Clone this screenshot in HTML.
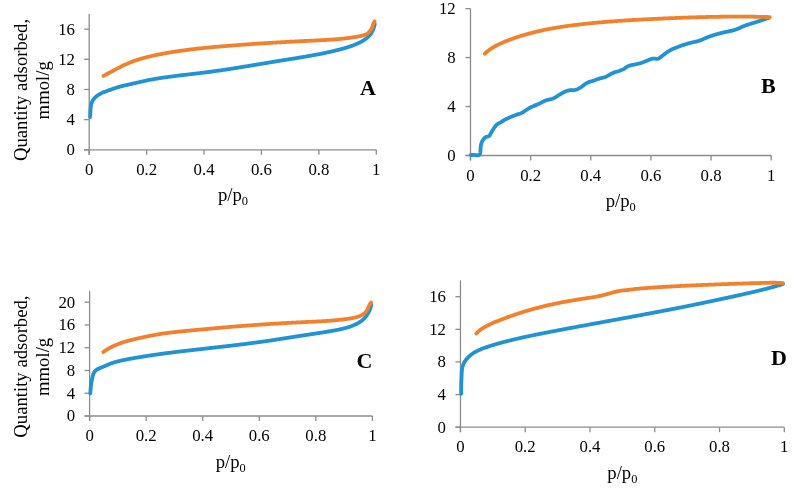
<!DOCTYPE html>
<html><head><meta charset="utf-8"><style>
html,body{margin:0;padding:0;background:#fff;}
svg{display:block;will-change:transform;}
</style></head><body>
<svg width="799" height="488" viewBox="0 0 799 488" font-family="Liberation Serif, serif" fill="#000">
<g stroke="#8C8C8C" stroke-width="1.3" fill="none"><line x1="89.2" y1="14.08" x2="89.2" y2="154.80" /><line x1="84.2" y1="149.8" x2="376.3" y2="149.8" /><line x1="84.2" y1="149.80" x2="89.2" y2="149.80" /><line x1="84.2" y1="119.64" x2="89.2" y2="119.64" /><line x1="84.2" y1="89.48" x2="89.2" y2="89.48" /><line x1="84.2" y1="59.32" x2="89.2" y2="59.32" /><line x1="84.2" y1="29.16" x2="89.2" y2="29.16" /><line x1="89.20" y1="149.8" x2="89.20" y2="154.8" /><line x1="146.62" y1="149.8" x2="146.62" y2="154.8" /><line x1="204.04" y1="149.8" x2="204.04" y2="154.8" /><line x1="261.46" y1="149.8" x2="261.46" y2="154.8" /><line x1="318.88" y1="149.8" x2="318.88" y2="154.8" /><line x1="376.30" y1="149.8" x2="376.30" y2="154.8" /></g>
<g font-size="16.8"><text x="75" y="155.20" text-anchor="end">0</text><text x="75" y="125.04" text-anchor="end">4</text><text x="75" y="94.88" text-anchor="end">8</text><text x="75" y="64.72" text-anchor="end">12</text><text x="75" y="34.56" text-anchor="end">16</text><text x="89.20" y="174.5" text-anchor="middle">0</text><text x="146.62" y="174.5" text-anchor="middle">0.2</text><text x="204.04" y="174.5" text-anchor="middle">0.4</text><text x="261.46" y="174.5" text-anchor="middle">0.6</text><text x="318.88" y="174.5" text-anchor="middle">0.8</text><text x="376.30" y="174.5" text-anchor="middle">1</text></g>
<text x="217.9" y="200.5" font-size="18.7">p/p<tspan font-size="12.4" dy="4.8">0</tspan></text>
<text x="360.1" y="94.7" font-size="22" font-weight="bold">A</text>
<path d="M90.09,117.00 L90.14,116.36 L90.18,115.73 L90.22,115.09 L90.26,114.46 L90.30,113.83 L90.34,113.20 L90.37,112.57 L90.40,111.94 L90.44,111.31 L90.47,110.67 L90.51,110.04 L90.55,109.40 L90.59,108.76 L90.64,108.11 L90.69,107.47 L90.76,106.83 L90.84,106.19 L90.94,105.56 L91.06,104.93 L91.19,104.31 L91.36,103.70 L91.55,103.10 L91.77,102.51 L92.01,101.93 L92.29,101.36 L92.59,100.81 L92.92,100.27 L93.27,99.74 L93.64,99.23 L94.03,98.73 L94.44,98.25 L94.87,97.78 L95.32,97.33 L95.78,96.90 L96.26,96.48 L96.75,96.08 L97.25,95.70 L97.76,95.33 L98.29,94.98 L98.82,94.64 L99.36,94.32 L99.92,94.01 L100.47,93.71 L101.04,93.42 L101.61,93.14 L102.19,92.87 L102.78,92.61 L103.37,92.36 L103.96,92.12 L104.56,91.88 L105.16,91.65 L105.76,91.42 L106.36,91.19 L106.96,90.97 L107.57,90.76 L108.17,90.54 L108.77,90.32 L109.37,90.11 L109.97,89.90 L110.57,89.68 L111.17,89.47 L111.77,89.27 L112.37,89.06 L112.97,88.85 L113.56,88.65 L114.16,88.45 L114.76,88.25 L115.36,88.06 L115.96,87.87 L116.57,87.68 L117.17,87.49 L117.77,87.30 L118.38,87.12 L118.99,86.95 L119.60,86.77 L120.21,86.60 L120.82,86.44 L121.44,86.27 L122.06,86.12 L122.68,85.96 L123.30,85.81 L123.92,85.66 L124.55,85.51 L125.17,85.37 L125.80,85.22 L126.42,85.08 L127.05,84.94 L127.68,84.80 L128.30,84.66 L128.93,84.52 L129.55,84.38 L130.18,84.23 L130.80,84.09 L131.43,83.95 L132.05,83.81 L132.67,83.67 L133.29,83.52 L133.91,83.38 L134.53,83.24 L135.15,83.09 L135.77,82.95 L136.39,82.81 L137.00,82.66 L137.62,82.52 L138.24,82.38 L138.85,82.24 L139.47,82.10 L140.09,81.95 L140.70,81.82 L141.32,81.68 L141.94,81.54 L142.55,81.40 L143.17,81.27 L143.79,81.13 L144.40,81.00 L145.02,80.87 L145.64,80.73 L146.26,80.61 L146.87,80.48 L147.49,80.35 L148.11,80.23 L148.73,80.10 L149.35,79.98 L149.97,79.86 L150.59,79.74 L151.21,79.63 L151.83,79.51 L152.46,79.40 L153.08,79.28 L153.70,79.17 L154.32,79.06 L154.95,78.95 L155.57,78.85 L156.20,78.74 L156.82,78.63 L157.44,78.53 L158.07,78.43 L158.69,78.33 L159.32,78.23 L159.95,78.13 L160.57,78.03 L161.20,77.93 L161.83,77.84 L162.45,77.74 L163.08,77.65 L163.71,77.55 L164.34,77.46 L164.96,77.37 L165.59,77.28 L166.22,77.19 L166.85,77.10 L167.48,77.02 L168.11,76.93 L168.74,76.84 L169.37,76.76 L170.00,76.67 L170.63,76.59 L171.26,76.51 L171.89,76.42 L172.52,76.34 L173.15,76.26 L173.78,76.18 L174.41,76.10 L175.05,76.02 L175.68,75.94 L176.31,75.87 L176.94,75.79 L177.57,75.71 L178.20,75.63 L178.84,75.56 L179.47,75.48 L180.10,75.41 L180.73,75.33 L181.37,75.25 L182.00,75.18 L182.63,75.11 L183.27,75.03 L183.90,74.96 L184.53,74.88 L185.16,74.81 L185.80,74.74 L186.43,74.66 L187.06,74.59 L187.70,74.52 L188.33,74.44 L188.96,74.37 L189.60,74.30 L190.23,74.23 L190.86,74.15 L191.50,74.08 L192.13,74.01 L192.76,73.93 L193.40,73.86 L194.03,73.79 L194.66,73.71 L195.30,73.64 L195.93,73.57 L196.56,73.49 L197.20,73.42 L197.83,73.34 L198.46,73.27 L199.09,73.19 L199.73,73.12 L200.36,73.04 L200.99,72.96 L201.62,72.89 L202.26,72.81 L202.89,72.73 L203.52,72.65 L204.15,72.57 L204.78,72.50 L205.42,72.42 L206.05,72.33 L206.68,72.25 L207.31,72.17 L207.94,72.09 L208.57,72.01 L209.20,71.92 L209.83,71.84 L210.46,71.76 L211.09,71.67 L211.72,71.59 L212.35,71.50 L212.98,71.42 L213.61,71.33 L214.24,71.24 L214.87,71.15 L215.50,71.07 L216.13,70.98 L216.76,70.89 L217.39,70.80 L218.02,70.71 L218.65,70.62 L219.28,70.53 L219.91,70.44 L220.54,70.35 L221.16,70.26 L221.79,70.16 L222.42,70.07 L223.05,69.98 L223.68,69.88 L224.31,69.79 L224.93,69.70 L225.56,69.60 L226.19,69.51 L226.82,69.41 L227.45,69.32 L228.07,69.22 L228.70,69.13 L229.33,69.03 L229.96,68.93 L230.58,68.84 L231.21,68.74 L231.84,68.64 L232.47,68.54 L233.09,68.45 L233.72,68.35 L234.35,68.25 L234.98,68.15 L235.60,68.05 L236.23,67.95 L236.86,67.85 L237.48,67.75 L238.11,67.65 L238.74,67.55 L239.36,67.45 L239.99,67.35 L240.62,67.25 L241.24,67.15 L241.87,67.05 L242.50,66.95 L243.12,66.84 L243.75,66.74 L244.38,66.64 L245.00,66.54 L245.63,66.43 L246.26,66.33 L246.88,66.23 L247.51,66.13 L248.13,66.02 L248.76,65.92 L249.39,65.82 L250.01,65.71 L250.64,65.61 L251.27,65.51 L251.89,65.40 L252.52,65.30 L253.15,65.20 L253.77,65.09 L254.40,64.99 L255.02,64.88 L255.65,64.78 L256.28,64.68 L256.90,64.57 L257.53,64.47 L258.16,64.36 L258.78,64.26 L259.41,64.15 L260.04,64.05 L260.66,63.95 L261.29,63.84 L261.92,63.74 L262.54,63.63 L263.17,63.53 L263.80,63.42 L264.42,63.32 L265.05,63.21 L265.68,63.11 L266.30,63.01 L266.93,62.90 L267.56,62.80 L268.18,62.69 L268.81,62.59 L269.44,62.49 L270.06,62.38 L270.69,62.28 L271.32,62.17 L271.95,62.07 L272.57,61.97 L273.20,61.86 L273.83,61.76 L274.45,61.66 L275.08,61.55 L275.71,61.45 L276.34,61.35 L276.97,61.25 L277.59,61.14 L278.22,61.04 L278.85,60.94 L279.48,60.84 L280.11,60.74 L280.73,60.63 L281.36,60.53 L281.99,60.43 L282.62,60.33 L283.25,60.23 L283.88,60.13 L284.50,60.03 L285.13,59.93 L285.76,59.83 L286.39,59.73 L287.02,59.62 L287.65,59.52 L288.28,59.42 L288.90,59.32 L289.53,59.22 L290.16,59.12 L290.79,59.02 L291.42,58.92 L292.05,58.82 L292.68,58.72 L293.31,58.62 L293.94,58.51 L294.56,58.41 L295.19,58.31 L295.82,58.21 L296.45,58.11 L297.08,58.00 L297.71,57.90 L298.34,57.80 L298.96,57.69 L299.59,57.59 L300.22,57.49 L300.85,57.38 L301.48,57.28 L302.11,57.17 L302.73,57.07 L303.36,56.96 L303.99,56.86 L304.62,56.75 L305.24,56.64 L305.87,56.53 L306.50,56.43 L307.13,56.32 L307.75,56.21 L308.38,56.10 L309.01,55.99 L309.63,55.88 L310.26,55.77 L310.89,55.66 L311.51,55.54 L312.14,55.43 L312.76,55.32 L313.39,55.20 L314.02,55.09 L314.64,54.97 L315.27,54.86 L315.89,54.74 L316.52,54.62 L317.14,54.50 L317.77,54.38 L318.39,54.26 L319.01,54.14 L319.64,54.02 L320.26,53.90 L320.88,53.77 L321.51,53.65 L322.13,53.53 L322.75,53.40 L323.38,53.27 L324.00,53.15 L324.62,53.02 L325.24,52.89 L325.86,52.76 L326.48,52.62 L327.10,52.49 L327.73,52.36 L328.35,52.22 L328.97,52.09 L329.58,51.95 L330.20,51.81 L330.82,51.68 L331.44,51.54 L332.06,51.39 L332.68,51.25 L333.30,51.11 L333.91,50.96 L334.53,50.82 L335.15,50.67 L335.76,50.52 L336.38,50.37 L337.00,50.22 L337.61,50.06 L338.22,49.91 L338.84,49.75 L339.45,49.59 L340.07,49.43 L340.68,49.27 L341.29,49.10 L341.90,48.93 L342.51,48.76 L343.12,48.59 L343.73,48.42 L344.34,48.24 L344.95,48.06 L345.56,47.88 L346.17,47.69 L346.78,47.51 L347.38,47.32 L347.99,47.12 L348.59,46.93 L349.20,46.73 L349.80,46.53 L350.40,46.32 L351.01,46.12 L351.61,45.90 L352.21,45.69 L352.81,45.47 L353.41,45.25 L354.00,45.02 L354.60,44.79 L355.19,44.56 L355.78,44.32 L356.37,44.07 L356.95,43.82 L357.54,43.56 L358.12,43.30 L358.69,43.03 L359.26,42.75 L359.83,42.47 L360.39,42.18 L360.95,41.88 L361.51,41.57 L362.06,41.26 L362.60,40.94 L363.14,40.60 L363.67,40.26 L364.20,39.91 L364.72,39.56 L365.24,39.19 L365.75,38.81 L366.25,38.42 L366.74,38.02 L367.23,37.61 L367.71,37.19 L368.18,36.75 L368.64,36.31 L369.08,35.85 L369.52,35.39 L369.93,34.91 L370.34,34.42 L370.73,33.92 L371.10,33.40 L371.45,32.88 L371.78,32.34 L372.10,31.79 L372.39,31.23 L372.67,30.66 L372.93,30.08 L373.17,29.49 L373.40,28.89 L373.61,28.29 L373.81,27.68 L374.00,27.07 L374.17,26.46 L374.34,25.84 L374.49,25.23 L374.64,24.61 L374.78,24.00" stroke="#1F93D3" stroke-width="3.8" fill="none" stroke-linecap="round" stroke-linejoin="round"/>
<path d="M103.50,75.89 L104.00,75.63 L104.50,75.36 L105.01,75.09 L105.51,74.83 L106.01,74.56 L106.51,74.29 L107.01,74.02 L107.51,73.75 L108.01,73.48 L108.51,73.21 L109.01,72.94 L109.51,72.67 L110.01,72.39 L110.52,72.12 L111.02,71.85 L111.52,71.58 L112.02,71.31 L112.52,71.04 L113.02,70.77 L113.53,70.50 L114.03,70.23 L114.53,69.96 L115.04,69.70 L115.54,69.43 L116.05,69.16 L116.55,68.90 L117.06,68.63 L117.56,68.37 L118.07,68.11 L118.58,67.85 L119.08,67.59 L119.59,67.33 L120.10,67.07 L120.61,66.82 L121.12,66.56 L121.63,66.31 L122.14,66.06 L122.66,65.81 L123.17,65.56 L123.68,65.32 L124.20,65.08 L124.71,64.84 L125.23,64.60 L125.75,64.36 L126.27,64.13 L126.78,63.89 L127.30,63.67 L127.83,63.44 L128.35,63.21 L128.87,62.99 L129.40,62.77 L129.92,62.56 L130.45,62.34 L130.98,62.13 L131.50,61.93 L132.03,61.72 L132.57,61.52 L133.10,61.32 L133.63,61.13 L134.17,60.94 L134.70,60.75 L135.24,60.56 L135.78,60.38 L136.32,60.19 L136.86,60.02 L137.40,59.84 L137.94,59.67 L138.48,59.49 L139.02,59.33 L139.57,59.16 L140.11,59.00 L140.66,58.83 L141.20,58.67 L141.75,58.52 L142.30,58.36 L142.85,58.21 L143.40,58.06 L143.95,57.91 L144.50,57.76 L145.05,57.62 L145.60,57.47 L146.15,57.33 L146.71,57.19 L147.26,57.05 L147.81,56.92 L148.37,56.78 L148.92,56.65 L149.48,56.52 L150.03,56.39 L150.59,56.26 L151.15,56.13 L151.70,56.01 L152.26,55.88 L152.82,55.76 L153.37,55.63 L153.93,55.51 L154.49,55.39 L155.05,55.27 L155.61,55.15 L156.16,55.04 L156.72,54.92 L157.28,54.80 L157.84,54.69 L158.40,54.58 L158.96,54.46 L159.51,54.35 L160.07,54.24 L160.63,54.13 L161.19,54.02 L161.75,53.92 L162.31,53.81 L162.87,53.70 L163.43,53.60 L163.99,53.49 L164.55,53.39 L165.11,53.29 L165.67,53.19 L166.23,53.09 L166.79,52.99 L167.36,52.89 L167.92,52.79 L168.48,52.69 L169.04,52.60 L169.60,52.50 L170.16,52.41 L170.72,52.31 L171.28,52.22 L171.85,52.13 L172.41,52.04 L172.97,51.94 L173.53,51.85 L174.10,51.77 L174.66,51.68 L175.22,51.59 L175.78,51.50 L176.35,51.42 L176.91,51.33 L177.47,51.25 L178.03,51.16 L178.60,51.08 L179.16,51.00 L179.72,50.92 L180.29,50.84 L180.85,50.75 L181.42,50.68 L181.98,50.60 L182.54,50.52 L183.11,50.44 L183.67,50.36 L184.24,50.29 L184.80,50.21 L185.36,50.14 L185.93,50.06 L186.49,49.99 L187.06,49.92 L187.62,49.84 L188.19,49.77 L188.75,49.70 L189.32,49.63 L189.88,49.56 L190.45,49.49 L191.01,49.42 L191.58,49.35 L192.14,49.29 L192.71,49.22 L193.27,49.15 L193.84,49.09 L194.40,49.02 L194.97,48.96 L195.54,48.89 L196.10,48.83 L196.67,48.76 L197.23,48.70 L197.80,48.64 L198.37,48.58 L198.93,48.51 L199.50,48.45 L200.06,48.39 L200.63,48.33 L201.20,48.27 L201.76,48.21 L202.33,48.15 L202.90,48.10 L203.46,48.04 L204.03,47.98 L204.60,47.92 L205.16,47.87 L205.73,47.81 L206.30,47.75 L206.86,47.70 L207.43,47.64 L208.00,47.59 L208.56,47.53 L209.13,47.48 L209.70,47.43 L210.27,47.37 L210.83,47.32 L211.40,47.27 L211.97,47.22 L212.53,47.16 L213.10,47.11 L213.67,47.06 L214.24,47.01 L214.80,46.96 L215.37,46.91 L215.94,46.86 L216.51,46.81 L217.07,46.76 L217.64,46.71 L218.21,46.66 L218.78,46.61 L219.34,46.56 L219.91,46.51 L220.48,46.46 L221.05,46.42 L221.61,46.37 L222.18,46.32 L222.75,46.27 L223.32,46.23 L223.88,46.18 L224.45,46.13 L225.02,46.09 L225.59,46.04 L226.15,45.99 L226.72,45.95 L227.29,45.90 L227.86,45.85 L228.42,45.81 L228.99,45.76 L229.56,45.72 L230.13,45.67 L230.70,45.63 L231.26,45.58 L231.83,45.54 L232.40,45.49 L232.97,45.45 L233.53,45.40 L234.10,45.36 L234.67,45.32 L235.24,45.27 L235.81,45.23 L236.37,45.19 L236.94,45.14 L237.51,45.10 L238.08,45.06 L238.64,45.01 L239.21,44.97 L239.78,44.93 L240.35,44.89 L240.92,44.84 L241.48,44.80 L242.05,44.76 L242.62,44.72 L243.19,44.68 L243.76,44.64 L244.32,44.60 L244.89,44.55 L245.46,44.51 L246.03,44.47 L246.60,44.43 L247.16,44.39 L247.73,44.35 L248.30,44.31 L248.87,44.27 L249.44,44.23 L250.00,44.19 L250.57,44.15 L251.14,44.11 L251.71,44.08 L252.28,44.04 L252.84,44.00 L253.41,43.96 L253.98,43.92 L254.55,43.88 L255.12,43.84 L255.68,43.81 L256.25,43.77 L256.82,43.73 L257.39,43.69 L257.96,43.65 L258.53,43.62 L259.09,43.58 L259.66,43.54 L260.23,43.51 L260.80,43.47 L261.37,43.43 L261.94,43.40 L262.50,43.36 L263.07,43.32 L263.64,43.29 L264.21,43.25 L264.78,43.22 L265.34,43.18 L265.91,43.14 L266.48,43.11 L267.05,43.07 L267.62,43.04 L268.19,43.00 L268.76,42.97 L269.32,42.93 L269.89,42.90 L270.46,42.86 L271.03,42.83 L271.60,42.80 L272.17,42.76 L272.73,42.73 L273.30,42.69 L273.87,42.66 L274.44,42.63 L275.01,42.59 L275.58,42.56 L276.15,42.53 L276.71,42.49 L277.28,42.46 L277.85,42.43 L278.42,42.40 L278.99,42.36 L279.56,42.33 L280.13,42.30 L280.69,42.27 L281.26,42.23 L281.83,42.20 L282.40,42.17 L282.97,42.14 L283.54,42.11 L284.11,42.07 L284.68,42.04 L285.24,42.01 L285.81,41.98 L286.38,41.95 L286.95,41.92 L287.52,41.89 L288.09,41.86 L288.66,41.83 L289.23,41.80 L289.79,41.77 L290.36,41.74 L290.93,41.71 L291.50,41.68 L292.07,41.65 L292.64,41.62 L293.21,41.59 L293.78,41.56 L294.35,41.53 L294.92,41.50 L295.48,41.47 L296.05,41.44 L296.62,41.41 L297.19,41.38 L297.76,41.35 L298.33,41.32 L298.90,41.29 L299.47,41.27 L300.04,41.24 L300.61,41.21 L301.18,41.18 L301.74,41.15 L302.31,41.13 L302.88,41.10 L303.45,41.07 L304.02,41.04 L304.59,41.01 L305.16,40.99 L305.73,40.96 L306.30,40.93 L306.87,40.90 L307.44,40.88 L308.01,40.85 L308.58,40.82 L309.15,40.80 L309.71,40.77 L310.28,40.74 L310.85,40.72 L311.42,40.69 L311.99,40.66 L312.56,40.64 L313.13,40.61 L313.70,40.58 L314.27,40.56 L314.84,40.53 L315.41,40.50 L315.98,40.48 L316.55,40.45 L317.12,40.42 L317.69,40.39 L318.26,40.37 L318.82,40.34 L319.39,40.31 L319.96,40.28 L320.53,40.25 L321.10,40.22 L321.67,40.20 L322.24,40.17 L322.81,40.14 L323.38,40.11 L323.95,40.07 L324.52,40.04 L325.08,40.01 L325.65,39.98 L326.22,39.95 L326.79,39.91 L327.36,39.88 L327.93,39.84 L328.50,39.81 L329.06,39.77 L329.63,39.74 L330.20,39.70 L330.77,39.66 L331.34,39.62 L331.90,39.58 L332.47,39.54 L333.04,39.50 L333.61,39.46 L334.18,39.42 L334.74,39.38 L335.31,39.33 L335.88,39.29 L336.44,39.24 L337.01,39.19 L337.58,39.15 L338.14,39.10 L338.71,39.05 L339.28,39.00 L339.84,38.95 L340.41,38.89 L340.98,38.84 L341.54,38.78 L342.11,38.73 L342.67,38.67 L343.24,38.61 L343.80,38.55 L344.37,38.49 L344.93,38.43 L345.50,38.36 L346.06,38.30 L346.63,38.23 L347.19,38.16 L347.76,38.10 L348.32,38.03 L348.88,37.95 L349.45,37.88 L350.01,37.81 L350.57,37.73 L351.14,37.65 L351.70,37.57 L352.26,37.49 L352.82,37.41 L353.39,37.33 L353.95,37.24 L354.51,37.15 L355.07,37.06 L355.63,36.97 L356.20,36.88 L356.76,36.78 L357.32,36.68 L357.88,36.57 L358.44,36.46 L359.00,36.35 L359.56,36.23 L360.12,36.11 L360.68,35.98 L361.24,35.85 L361.80,35.71 L362.35,35.57 L362.91,35.42 L363.47,35.26 L364.02,35.08 L364.56,34.90 L365.09,34.69 L365.62,34.47 L366.13,34.22 L366.62,33.95 L367.10,33.66 L367.56,33.35 L368.01,33.01 L368.44,32.66 L368.86,32.28 L369.25,31.89 L369.63,31.48 L369.99,31.05 L370.34,30.60 L370.66,30.14 L370.97,29.67 L371.25,29.18 L371.51,28.67 L371.76,28.15 L371.98,27.63 L372.19,27.09 L372.39,26.55 L372.58,26.00 L372.76,25.45 L372.95,24.90 L373.14,24.36 L373.34,23.82 L373.55,23.29 L373.78,22.78 L374.03,22.27 L374.31,21.79 L374.61,21.32" stroke="#F3802A" stroke-width="3.8" fill="none" stroke-linecap="round" stroke-linejoin="round"/>
<g stroke="#8C8C8C" stroke-width="1.3" fill="none"><line x1="470.5" y1="8.62" x2="470.5" y2="160.50" /><line x1="465.5" y1="155.5" x2="771.2" y2="155.5" /><line x1="465.5" y1="155.50" x2="470.5" y2="155.50" /><line x1="465.5" y1="106.54" x2="470.5" y2="106.54" /><line x1="465.5" y1="57.58" x2="470.5" y2="57.58" /><line x1="465.5" y1="8.62" x2="470.5" y2="8.62" /><line x1="470.50" y1="155.5" x2="470.50" y2="160.5" /><line x1="530.64" y1="155.5" x2="530.64" y2="160.5" /><line x1="590.78" y1="155.5" x2="590.78" y2="160.5" /><line x1="650.92" y1="155.5" x2="650.92" y2="160.5" /><line x1="711.06" y1="155.5" x2="711.06" y2="160.5" /><line x1="771.20" y1="155.5" x2="771.20" y2="160.5" /></g>
<g font-size="16.8"><text x="455.7" y="160.90" text-anchor="end">0</text><text x="455.7" y="111.94" text-anchor="end">4</text><text x="455.7" y="62.98" text-anchor="end">8</text><text x="455.7" y="14.02" text-anchor="end">12</text><text x="470.50" y="181" text-anchor="middle">0</text><text x="530.64" y="181" text-anchor="middle">0.2</text><text x="590.78" y="181" text-anchor="middle">0.4</text><text x="650.92" y="181" text-anchor="middle">0.6</text><text x="711.06" y="181" text-anchor="middle">0.8</text><text x="771.20" y="181" text-anchor="middle">1</text></g>
<text x="605.7" y="206.6" font-size="18.7">p/p<tspan font-size="12.4" dy="4.8">0</tspan></text>
<text x="761.1" y="92.7" font-size="22" font-weight="bold">B</text>
<path d="M470.79,154.99 L471.49,155.01 L472.17,155.01 L472.85,154.99 L473.52,154.96 L474.19,154.95 L474.87,154.97 L475.57,155.03 L476.27,155.14 L476.98,155.25 L477.67,155.31 L478.33,155.24 L478.93,155.01 L479.44,154.63 L479.82,154.13 L480.08,153.53 L480.25,152.88 L480.35,152.18 L480.40,151.47 L480.44,150.75 L480.48,150.06 L480.52,149.37 L480.56,148.69 L480.60,148.02 L480.66,147.35 L480.73,146.68 L480.82,146.01 L480.93,145.34 L481.07,144.68 L481.22,144.01 L481.41,143.35 L481.62,142.70 L481.87,142.07 L482.14,141.44 L482.46,140.84 L482.81,140.25 L483.19,139.69 L483.62,139.15 L484.08,138.64 L484.56,138.13 L485.03,137.63 L485.54,137.20 L486.13,136.93 L486.78,136.76 L487.46,136.63 L488.13,136.47 L488.76,136.23 L489.30,135.87 L489.73,135.37 L490.09,134.78 L490.40,134.15 L490.70,133.51 L491.02,132.90 L491.35,132.31 L491.69,131.72 L492.03,131.15 L492.39,130.57 L492.75,129.99 L493.12,129.42 L493.50,128.85 L493.88,128.27 L494.27,127.71 L494.66,127.14 L495.06,126.58 L495.47,126.04 L495.90,125.52 L496.37,125.03 L496.88,124.59 L497.43,124.18 L498.01,123.81 L498.59,123.45 L499.19,123.12 L499.79,122.79 L500.39,122.46 L500.98,122.13 L501.57,121.79 L502.15,121.42 L502.72,121.05 L503.29,120.67 L503.86,120.30 L504.45,119.95 L505.04,119.61 L505.64,119.30 L506.26,119.00 L506.88,118.71 L507.50,118.43 L508.13,118.16 L508.75,117.88 L509.38,117.61 L510.00,117.34 L510.63,117.08 L511.26,116.81 L511.89,116.55 L512.52,116.29 L513.16,116.04 L513.79,115.79 L514.43,115.54 L515.06,115.30 L515.70,115.06 L516.35,114.83 L516.99,114.60 L517.64,114.38 L518.29,114.16 L518.94,113.94 L519.58,113.71 L520.22,113.48 L520.85,113.23 L521.48,112.96 L522.09,112.66 L522.69,112.35 L523.28,112.01 L523.87,111.65 L524.44,111.28 L525.01,110.90 L525.58,110.52 L526.15,110.13 L526.72,109.75 L527.29,109.37 L527.86,109.00 L528.44,108.64 L529.02,108.29 L529.61,107.95 L530.20,107.62 L530.80,107.30 L531.41,106.99 L532.03,106.70 L532.65,106.42 L533.28,106.15 L533.91,105.88 L534.54,105.62 L535.18,105.37 L535.81,105.12 L536.45,104.87 L537.09,104.62 L537.72,104.36 L538.35,104.10 L538.97,103.83 L539.59,103.54 L540.20,103.24 L540.80,102.92 L541.40,102.59 L542.00,102.25 L542.60,101.92 L543.20,101.60 L543.81,101.30 L544.43,101.01 L545.06,100.75 L545.69,100.51 L546.33,100.29 L546.98,100.09 L547.64,99.91 L548.30,99.75 L548.97,99.60 L549.65,99.47 L550.32,99.33 L550.99,99.18 L551.65,99.01 L552.30,98.82 L552.94,98.59 L553.56,98.32 L554.17,98.02 L554.77,97.69 L555.36,97.35 L555.94,96.98 L556.52,96.61 L557.09,96.24 L557.67,95.87 L558.25,95.50 L558.83,95.14 L559.41,94.79 L559.99,94.43 L560.57,94.08 L561.16,93.74 L561.75,93.39 L562.34,93.05 L562.93,92.71 L563.53,92.38 L564.13,92.06 L564.74,91.76 L565.36,91.47 L565.99,91.20 L566.63,90.95 L567.27,90.73 L567.93,90.53 L568.60,90.38 L569.27,90.27 L569.94,90.20 L570.62,90.17 L571.30,90.18 L571.99,90.21 L572.67,90.23 L573.35,90.23 L574.03,90.16 L574.69,90.03 L575.36,89.84 L576.01,89.63 L576.66,89.40 L577.29,89.15 L577.92,88.88 L578.53,88.60 L579.14,88.29 L579.74,87.96 L580.32,87.61 L580.89,87.24 L581.45,86.86 L582.01,86.46 L582.56,86.05 L583.11,85.64 L583.66,85.22 L584.21,84.81 L584.76,84.41 L585.32,84.02 L585.89,83.64 L586.46,83.28 L587.05,82.94 L587.65,82.63 L588.27,82.35 L588.90,82.10 L589.54,81.87 L590.19,81.66 L590.85,81.46 L591.51,81.27 L592.17,81.08 L592.83,80.88 L593.48,80.68 L594.13,80.46 L594.77,80.24 L595.41,80.01 L596.05,79.77 L596.69,79.54 L597.33,79.31 L597.97,79.08 L598.61,78.85 L599.26,78.63 L599.91,78.43 L600.57,78.23 L601.23,78.05 L601.89,77.88 L602.56,77.73 L603.23,77.58 L603.89,77.42 L604.54,77.23 L605.18,77.00 L605.81,76.74 L606.42,76.45 L607.03,76.14 L607.64,75.82 L608.24,75.49 L608.83,75.15 L609.43,74.81 L610.02,74.48 L610.62,74.14 L611.22,73.81 L611.82,73.49 L612.43,73.19 L613.04,72.90 L613.67,72.63 L614.30,72.38 L614.95,72.17 L615.60,71.98 L616.27,71.81 L616.94,71.65 L617.60,71.48 L618.26,71.28 L618.90,71.06 L619.54,70.82 L620.17,70.58 L620.81,70.33 L621.44,70.08 L622.07,69.81 L622.69,69.53 L623.30,69.22 L623.90,68.89 L624.48,68.53 L625.05,68.15 L625.62,67.76 L626.18,67.36 L626.75,66.98 L627.33,66.62 L627.92,66.30 L628.53,66.01 L629.16,65.77 L629.81,65.55 L630.46,65.37 L631.12,65.22 L631.79,65.08 L632.46,64.95 L633.13,64.82 L633.80,64.70 L634.47,64.57 L635.14,64.43 L635.81,64.29 L636.48,64.15 L637.15,64.01 L637.82,63.85 L638.48,63.69 L639.14,63.52 L639.80,63.35 L640.46,63.16 L641.11,62.97 L641.76,62.76 L642.41,62.54 L643.05,62.31 L643.69,62.08 L644.32,61.83 L644.95,61.58 L645.58,61.32 L646.21,61.06 L646.84,60.80 L647.47,60.53 L648.10,60.27 L648.73,60.00 L649.37,59.74 L650.00,59.49 L650.65,59.24 L651.29,59.00 L651.94,58.79 L652.60,58.63 L653.26,58.54 L653.93,58.53 L654.61,58.57 L655.30,58.66 L656.00,58.76 L656.68,58.83 L657.36,58.83 L658.00,58.71 L658.61,58.48 L659.19,58.15 L659.76,57.76 L660.32,57.36 L660.87,56.95 L661.42,56.53 L661.96,56.11 L662.51,55.69 L663.05,55.27 L663.59,54.84 L664.13,54.42 L664.68,54.00 L665.22,53.59 L665.77,53.18 L666.32,52.78 L666.88,52.38 L667.44,52.00 L668.01,51.62 L668.58,51.26 L669.16,50.91 L669.75,50.57 L670.35,50.25 L670.95,49.93 L671.55,49.62 L672.16,49.32 L672.78,49.03 L673.40,48.75 L674.02,48.47 L674.65,48.20 L675.28,47.94 L675.92,47.68 L676.56,47.43 L677.19,47.19 L677.84,46.95 L678.48,46.71 L679.12,46.48 L679.77,46.24 L680.41,46.01 L681.06,45.79 L681.70,45.56 L682.35,45.33 L682.99,45.11 L683.64,44.89 L684.29,44.67 L684.93,44.46 L685.58,44.24 L686.23,44.04 L686.88,43.83 L687.53,43.64 L688.18,43.45 L688.84,43.26 L689.49,43.08 L690.15,42.91 L690.81,42.75 L691.48,42.59 L692.15,42.44 L692.81,42.30 L693.48,42.15 L694.15,42.01 L694.82,41.86 L695.49,41.71 L696.15,41.56 L696.81,41.39 L697.47,41.22 L698.13,41.04 L698.78,40.84 L699.42,40.63 L700.06,40.40 L700.70,40.16 L701.34,39.91 L701.97,39.65 L702.60,39.39 L703.23,39.12 L703.85,38.85 L704.48,38.58 L705.11,38.30 L705.73,38.03 L706.36,37.77 L707.00,37.50 L707.63,37.25 L708.27,37.00 L708.91,36.75 L709.55,36.52 L710.19,36.29 L710.84,36.06 L711.48,35.84 L712.13,35.62 L712.78,35.41 L713.43,35.21 L714.08,35.00 L714.74,34.80 L715.39,34.61 L716.04,34.41 L716.70,34.22 L717.35,34.03 L718.01,33.85 L718.67,33.66 L719.32,33.48 L719.98,33.31 L720.64,33.14 L721.30,32.97 L721.96,32.80 L722.62,32.64 L723.28,32.48 L723.95,32.33 L724.62,32.18 L725.28,32.04 L725.95,31.90 L726.63,31.77 L727.30,31.64 L727.97,31.51 L728.64,31.37 L729.32,31.24 L729.99,31.11 L730.66,30.96 L731.33,30.82 L731.99,30.66 L732.65,30.50 L733.31,30.32 L733.97,30.13 L734.62,29.93 L735.26,29.72 L735.90,29.49 L736.54,29.24 L737.17,28.99 L737.80,28.73 L738.43,28.46 L739.06,28.18 L739.68,27.91 L740.31,27.63 L740.93,27.35 L741.56,27.07 L742.18,26.80 L742.81,26.53 L743.44,26.28 L744.08,26.02 L744.71,25.78 L745.35,25.55 L746.00,25.32 L746.64,25.09 L747.28,24.88 L747.93,24.66 L748.58,24.45 L749.23,24.24 L749.88,24.04 L750.53,23.84 L751.18,23.64 L751.84,23.44 L752.49,23.24 L753.14,23.04 L753.79,22.83 L754.44,22.63 L755.09,22.42 L755.74,22.21 L756.39,22.00 L757.04,21.79 L757.69,21.58 L758.34,21.36 L758.99,21.15 L759.63,20.93 L760.28,20.71 L760.93,20.49 L761.57,20.27 L762.22,20.05 L762.87,19.83 L763.52,19.61 L764.16,19.40 L764.81,19.18 L765.46,18.96 L766.10,18.75 L766.75,18.53 L767.40,18.32 L768.05,18.11 L768.70,17.90" stroke="#1F93D3" stroke-width="3.8" fill="none" stroke-linecap="round" stroke-linejoin="round"/>
<path d="M484.78,53.79 L485.20,53.38 L485.63,52.97 L486.06,52.57 L486.49,52.18 L486.93,51.80 L487.38,51.42 L487.83,51.05 L488.28,50.69 L488.74,50.33 L489.21,49.98 L489.68,49.64 L490.15,49.30 L490.63,48.97 L491.11,48.64 L491.59,48.32 L492.08,48.01 L492.57,47.70 L493.07,47.40 L493.57,47.10 L494.07,46.81 L494.57,46.52 L495.08,46.24 L495.59,45.96 L496.11,45.69 L496.62,45.42 L497.14,45.15 L497.66,44.89 L498.18,44.63 L498.71,44.38 L499.24,44.13 L499.77,43.88 L500.30,43.64 L500.83,43.39 L501.37,43.16 L501.90,42.92 L502.44,42.69 L502.98,42.46 L503.52,42.23 L504.06,42.01 L504.60,41.78 L505.14,41.56 L505.68,41.34 L506.22,41.12 L506.77,40.91 L507.31,40.69 L507.86,40.48 L508.40,40.27 L508.95,40.06 L509.49,39.85 L510.04,39.65 L510.59,39.44 L511.14,39.24 L511.68,39.04 L512.23,38.84 L512.78,38.64 L513.33,38.45 L513.88,38.25 L514.43,38.06 L514.98,37.87 L515.54,37.68 L516.09,37.49 L516.64,37.31 L517.19,37.12 L517.75,36.94 L518.30,36.76 L518.86,36.58 L519.41,36.40 L519.97,36.22 L520.52,36.05 L521.08,35.88 L521.64,35.70 L522.19,35.53 L522.75,35.36 L523.31,35.20 L523.87,35.03 L524.43,34.87 L524.99,34.70 L525.55,34.54 L526.11,34.38 L526.67,34.22 L527.23,34.07 L527.79,33.91 L528.35,33.76 L528.91,33.60 L529.48,33.45 L530.04,33.30 L530.60,33.15 L531.17,33.00 L531.73,32.86 L532.29,32.71 L532.86,32.57 L533.42,32.43 L533.99,32.29 L534.55,32.15 L535.12,32.01 L535.69,31.87 L536.25,31.74 L536.82,31.60 L537.39,31.47 L537.95,31.34 L538.52,31.21 L539.09,31.08 L539.66,30.95 L540.23,30.83 L540.79,30.70 L541.36,30.58 L541.93,30.45 L542.50,30.33 L543.07,30.21 L543.64,30.09 L544.21,29.97 L544.78,29.85 L545.36,29.74 L545.93,29.62 L546.50,29.51 L547.07,29.40 L547.64,29.28 L548.21,29.17 L548.79,29.06 L549.36,28.95 L549.93,28.85 L550.51,28.74 L551.08,28.63 L551.65,28.53 L552.23,28.43 L552.80,28.32 L553.37,28.22 L553.95,28.12 L554.52,28.02 L555.10,27.92 L555.67,27.83 L556.25,27.73 L556.82,27.63 L557.40,27.54 L557.97,27.44 L558.55,27.35 L559.13,27.26 L559.70,27.17 L560.28,27.08 L560.86,26.99 L561.43,26.90 L562.01,26.81 L562.59,26.72 L563.16,26.63 L563.74,26.55 L564.32,26.46 L564.90,26.38 L565.47,26.30 L566.05,26.21 L566.63,26.13 L567.21,26.05 L567.78,25.97 L568.36,25.89 L568.94,25.81 L569.52,25.73 L570.10,25.65 L570.68,25.58 L571.25,25.50 L571.83,25.42 L572.41,25.35 L572.99,25.27 L573.57,25.20 L574.15,25.13 L574.73,25.06 L575.31,24.98 L575.89,24.91 L576.47,24.84 L577.05,24.77 L577.62,24.70 L578.20,24.63 L578.78,24.56 L579.36,24.49 L579.94,24.43 L580.52,24.36 L581.10,24.29 L581.68,24.23 L582.26,24.16 L582.84,24.10 L583.42,24.03 L584.00,23.97 L584.58,23.90 L585.16,23.84 L585.74,23.78 L586.32,23.71 L586.90,23.65 L587.48,23.59 L588.06,23.53 L588.64,23.47 L589.22,23.41 L589.80,23.35 L590.38,23.29 L590.96,23.23 L591.54,23.18 L592.12,23.12 L592.70,23.06 L593.28,23.00 L593.86,22.95 L594.44,22.89 L595.02,22.84 L595.60,22.78 L596.18,22.73 L596.76,22.67 L597.34,22.62 L597.93,22.57 L598.51,22.51 L599.09,22.46 L599.67,22.41 L600.25,22.36 L600.83,22.31 L601.41,22.26 L601.99,22.21 L602.57,22.16 L603.15,22.11 L603.73,22.06 L604.31,22.01 L604.89,21.96 L605.48,21.91 L606.06,21.86 L606.64,21.82 L607.22,21.77 L607.80,21.72 L608.38,21.68 L608.96,21.63 L609.54,21.59 L610.12,21.54 L610.71,21.50 L611.29,21.45 L611.87,21.41 L612.45,21.36 L613.03,21.32 L613.61,21.28 L614.19,21.23 L614.78,21.19 L615.36,21.15 L615.94,21.11 L616.52,21.07 L617.10,21.03 L617.68,20.98 L618.26,20.94 L618.85,20.90 L619.43,20.86 L620.01,20.82 L620.59,20.79 L621.17,20.75 L621.75,20.71 L622.34,20.67 L622.92,20.63 L623.50,20.59 L624.08,20.56 L624.66,20.52 L625.25,20.48 L625.83,20.45 L626.41,20.41 L626.99,20.37 L627.57,20.34 L628.16,20.30 L628.74,20.27 L629.32,20.23 L629.90,20.20 L630.48,20.16 L631.07,20.13 L631.65,20.09 L632.23,20.06 L632.81,20.02 L633.39,19.99 L633.98,19.96 L634.56,19.93 L635.14,19.89 L635.72,19.86 L636.31,19.83 L636.89,19.80 L637.47,19.76 L638.05,19.73 L638.63,19.70 L639.22,19.67 L639.80,19.64 L640.38,19.61 L640.96,19.58 L641.55,19.55 L642.13,19.52 L642.71,19.48 L643.29,19.45 L643.88,19.43 L644.46,19.40 L645.04,19.37 L645.62,19.34 L646.21,19.31 L646.79,19.28 L647.37,19.25 L647.95,19.22 L648.54,19.19 L649.12,19.16 L649.70,19.14 L650.29,19.11 L650.87,19.08 L651.45,19.05 L652.03,19.02 L652.62,19.00 L653.20,18.97 L653.78,18.94 L654.37,18.91 L654.95,18.89 L655.53,18.86 L656.11,18.83 L656.70,18.81 L657.28,18.78 L657.86,18.75 L658.45,18.73 L659.03,18.70 L659.61,18.67 L660.19,18.65 L660.78,18.62 L661.36,18.60 L661.94,18.57 L662.53,18.54 L663.11,18.52 L663.69,18.49 L664.28,18.47 L664.86,18.44 L665.44,18.42 L666.02,18.39 L666.61,18.37 L667.19,18.34 L667.77,18.32 L668.36,18.29 L668.94,18.27 L669.52,18.24 L670.11,18.22 L670.69,18.20 L671.27,18.17 L671.86,18.15 L672.44,18.12 L673.02,18.10 L673.61,18.08 L674.19,18.05 L674.77,18.03 L675.35,18.01 L675.94,17.98 L676.52,17.96 L677.10,17.94 L677.69,17.92 L678.27,17.89 L678.85,17.87 L679.44,17.85 L680.02,17.83 L680.60,17.81 L681.19,17.79 L681.77,17.76 L682.35,17.74 L682.94,17.72 L683.52,17.70 L684.10,17.68 L684.69,17.66 L685.27,17.64 L685.85,17.62 L686.44,17.60 L687.02,17.58 L687.60,17.56 L688.19,17.54 L688.77,17.52 L689.35,17.50 L689.94,17.48 L690.52,17.46 L691.10,17.44 L691.69,17.43 L692.27,17.41 L692.85,17.39 L693.44,17.37 L694.02,17.35 L694.60,17.33 L695.19,17.32 L695.77,17.30 L696.35,17.28 L696.94,17.27 L697.52,17.25 L698.10,17.23 L698.69,17.22 L699.27,17.20 L699.85,17.18 L700.44,17.17 L701.02,17.15 L701.60,17.14 L702.19,17.12 L702.77,17.11 L703.35,17.09 L703.94,17.08 L704.52,17.06 L705.10,17.05 L705.69,17.04 L706.27,17.02 L706.86,17.01 L707.44,16.99 L708.02,16.98 L708.61,16.97 L709.19,16.96 L709.77,16.94 L710.36,16.93 L710.94,16.92 L711.52,16.91 L712.11,16.90 L712.69,16.88 L713.27,16.87 L713.86,16.86 L714.44,16.85 L715.02,16.84 L715.61,16.83 L716.19,16.82 L716.77,16.81 L717.36,16.80 L717.94,16.79 L718.52,16.78 L719.11,16.78 L719.69,16.77 L720.27,16.76 L720.85,16.75 L721.44,16.74 L722.02,16.73 L722.60,16.73 L723.19,16.72 L723.77,16.71 L724.35,16.71 L724.94,16.70 L725.52,16.69 L726.10,16.69 L726.69,16.68 L727.27,16.68 L727.85,16.67 L728.44,16.67 L729.02,16.66 L729.60,16.66 L730.19,16.66 L730.77,16.65 L731.35,16.65 L731.94,16.65 L732.52,16.64 L733.10,16.64 L733.68,16.64 L734.27,16.64 L734.85,16.63 L735.43,16.63 L736.02,16.63 L736.60,16.63 L737.18,16.63 L737.77,16.63 L738.35,16.63 L738.93,16.63 L739.52,16.63 L740.10,16.63 L740.68,16.63 L741.26,16.63 L741.85,16.63 L742.43,16.64 L743.01,16.64 L743.60,16.64 L744.18,16.64 L744.76,16.65 L745.34,16.65 L745.93,16.65 L746.51,16.66 L747.09,16.66 L747.68,16.67 L748.26,16.67 L748.84,16.68 L749.42,16.68 L750.01,16.69 L750.59,16.69 L751.17,16.70 L751.75,16.71 L752.34,16.71 L752.92,16.72 L753.50,16.73 L754.08,16.74 L754.67,16.74 L755.25,16.75 L755.83,16.76 L756.42,16.77 L757.00,16.78 L757.58,16.79 L758.16,16.80 L758.75,16.81 L759.33,16.82 L759.91,16.83 L760.49,16.85 L761.07,16.86 L761.66,16.87 L762.24,16.88 L762.82,16.90 L763.40,16.91 L763.99,16.92 L764.57,16.94 L765.15,16.95 L765.73,16.97 L766.32,16.98 L766.90,17.00 L767.48,17.01 L768.06,17.03 L768.64,17.05 L769.23,17.06 L769.81,17.08" stroke="#F3802A" stroke-width="3.8" fill="none" stroke-linecap="round" stroke-linejoin="round"/>
<g stroke="#8C8C8C" stroke-width="1.3" fill="none"><line x1="89.6" y1="290.82" x2="89.6" y2="421.00" /><line x1="84.6" y1="416" x2="372.4" y2="416" /><line x1="84.6" y1="416.00" x2="89.6" y2="416.00" /><line x1="84.6" y1="393.24" x2="89.6" y2="393.24" /><line x1="84.6" y1="370.48" x2="89.6" y2="370.48" /><line x1="84.6" y1="347.72" x2="89.6" y2="347.72" /><line x1="84.6" y1="324.96" x2="89.6" y2="324.96" /><line x1="84.6" y1="302.20" x2="89.6" y2="302.20" /><line x1="89.60" y1="416" x2="89.60" y2="421" /><line x1="146.16" y1="416" x2="146.16" y2="421" /><line x1="202.72" y1="416" x2="202.72" y2="421" /><line x1="259.28" y1="416" x2="259.28" y2="421" /><line x1="315.84" y1="416" x2="315.84" y2="421" /><line x1="372.40" y1="416" x2="372.40" y2="421" /></g>
<g font-size="16.8"><text x="75.2" y="421.40" text-anchor="end">0</text><text x="75.2" y="398.64" text-anchor="end">4</text><text x="75.2" y="375.88" text-anchor="end">8</text><text x="75.2" y="353.12" text-anchor="end">12</text><text x="75.2" y="330.36" text-anchor="end">16</text><text x="75.2" y="307.60" text-anchor="end">20</text><text x="89.60" y="440.5" text-anchor="middle">0</text><text x="146.16" y="440.5" text-anchor="middle">0.2</text><text x="202.72" y="440.5" text-anchor="middle">0.4</text><text x="259.28" y="440.5" text-anchor="middle">0.6</text><text x="315.84" y="440.5" text-anchor="middle">0.8</text><text x="372.40" y="440.5" text-anchor="middle">1</text></g>
<text x="215.7" y="467.6" font-size="18.7">p/p<tspan font-size="12.4" dy="4.8">0</tspan></text>
<text x="356.6" y="368.2" font-size="22" font-weight="bold">C</text>
<path d="M90.30,393.30 L90.35,392.67 L90.40,392.04 L90.45,391.41 L90.49,390.78 L90.54,390.15 L90.59,389.51 L90.63,388.88 L90.69,388.24 L90.74,387.61 L90.80,386.98 L90.86,386.35 L90.93,385.72 L91.01,385.09 L91.09,384.47 L91.18,383.85 L91.27,383.23 L91.37,382.61 L91.48,382.00 L91.59,381.38 L91.71,380.76 L91.83,380.15 L91.96,379.53 L92.09,378.91 L92.23,378.28 L92.37,377.66 L92.52,377.03 L92.68,376.40 L92.84,375.77 L93.02,375.15 L93.21,374.53 L93.43,373.94 L93.67,373.35 L93.94,372.79 L94.24,372.25 L94.58,371.74 L94.95,371.26 L95.36,370.81 L95.81,370.39 L96.29,370.00 L96.80,369.63 L97.34,369.29 L97.89,368.98 L98.46,368.68 L99.05,368.40 L99.64,368.14 L100.24,367.89 L100.83,367.66 L101.43,367.43 L102.02,367.21 L102.61,366.98 L103.20,366.76 L103.79,366.53 L104.37,366.29 L104.95,366.04 L105.52,365.79 L106.10,365.52 L106.67,365.26 L107.25,365.00 L107.82,364.74 L108.40,364.49 L108.99,364.25 L109.57,364.01 L110.16,363.78 L110.75,363.56 L111.34,363.34 L111.94,363.13 L112.54,362.93 L113.14,362.73 L113.74,362.54 L114.34,362.35 L114.95,362.17 L115.56,361.99 L116.17,361.82 L116.78,361.65 L117.39,361.49 L118.00,361.33 L118.61,361.18 L119.23,361.03 L119.84,360.88 L120.46,360.74 L121.08,360.59 L121.69,360.46 L122.31,360.32 L122.93,360.19 L123.55,360.06 L124.17,359.93 L124.79,359.81 L125.41,359.69 L126.03,359.56 L126.65,359.44 L127.28,359.32 L127.90,359.21 L128.52,359.09 L129.14,358.97 L129.77,358.86 L130.39,358.74 L131.01,358.63 L131.63,358.52 L132.26,358.40 L132.88,358.29 L133.50,358.18 L134.13,358.07 L134.75,357.96 L135.37,357.85 L136.00,357.74 L136.62,357.64 L137.25,357.53 L137.87,357.42 L138.49,357.32 L139.12,357.21 L139.74,357.11 L140.37,357.01 L140.99,356.90 L141.61,356.80 L142.24,356.70 L142.86,356.60 L143.49,356.50 L144.11,356.40 L144.74,356.30 L145.36,356.20 L145.99,356.10 L146.61,356.01 L147.24,355.91 L147.86,355.81 L148.49,355.72 L149.12,355.62 L149.74,355.53 L150.37,355.43 L150.99,355.34 L151.62,355.25 L152.24,355.16 L152.87,355.06 L153.50,354.97 L154.12,354.88 L154.75,354.79 L155.37,354.70 L156.00,354.61 L156.63,354.52 L157.25,354.44 L157.88,354.35 L158.51,354.26 L159.13,354.17 L159.76,354.09 L160.39,354.00 L161.01,353.92 L161.64,353.83 L162.27,353.75 L162.90,353.66 L163.52,353.58 L164.15,353.49 L164.78,353.41 L165.40,353.33 L166.03,353.25 L166.66,353.16 L167.29,353.08 L167.91,353.00 L168.54,352.92 L169.17,352.84 L169.80,352.76 L170.42,352.68 L171.05,352.60 L171.68,352.52 L172.31,352.44 L172.93,352.37 L173.56,352.29 L174.19,352.21 L174.82,352.13 L175.45,352.06 L176.07,351.98 L176.70,351.90 L177.33,351.83 L177.96,351.75 L178.59,351.67 L179.22,351.60 L179.84,351.52 L180.47,351.45 L181.10,351.37 L181.73,351.30 L182.36,351.22 L182.98,351.15 L183.61,351.08 L184.24,351.00 L184.87,350.93 L185.50,350.86 L186.13,350.78 L186.76,350.71 L187.38,350.64 L188.01,350.56 L188.64,350.49 L189.27,350.42 L189.90,350.35 L190.53,350.27 L191.16,350.20 L191.78,350.13 L192.41,350.06 L193.04,349.99 L193.67,349.92 L194.30,349.84 L194.93,349.77 L195.56,349.70 L196.19,349.63 L196.81,349.56 L197.44,349.49 L198.07,349.42 L198.70,349.35 L199.33,349.28 L199.96,349.21 L200.59,349.14 L201.21,349.06 L201.84,348.99 L202.47,348.92 L203.10,348.85 L203.73,348.78 L204.36,348.71 L204.99,348.64 L205.62,348.57 L206.24,348.50 L206.87,348.43 L207.50,348.36 L208.13,348.29 L208.76,348.22 L209.39,348.15 L210.02,348.08 L210.64,348.01 L211.27,347.93 L211.90,347.86 L212.53,347.79 L213.16,347.72 L213.79,347.65 L214.42,347.58 L215.04,347.51 L215.67,347.44 L216.30,347.37 L216.93,347.30 L217.56,347.22 L218.19,347.15 L218.82,347.08 L219.44,347.01 L220.07,346.94 L220.70,346.87 L221.33,346.79 L221.96,346.72 L222.59,346.65 L223.22,346.58 L223.84,346.51 L224.47,346.43 L225.10,346.36 L225.73,346.29 L226.36,346.21 L226.99,346.14 L227.61,346.07 L228.24,346.00 L228.87,345.92 L229.50,345.85 L230.13,345.77 L230.76,345.70 L231.38,345.63 L232.01,345.55 L232.64,345.48 L233.27,345.40 L233.90,345.33 L234.52,345.25 L235.15,345.18 L235.78,345.10 L236.41,345.03 L237.04,344.95 L237.66,344.88 L238.29,344.80 L238.92,344.72 L239.55,344.65 L240.18,344.57 L240.80,344.49 L241.43,344.41 L242.06,344.34 L242.69,344.26 L243.32,344.18 L243.94,344.10 L244.57,344.02 L245.20,343.95 L245.83,343.87 L246.45,343.79 L247.08,343.71 L247.71,343.63 L248.34,343.55 L248.97,343.47 L249.59,343.39 L250.22,343.30 L250.85,343.22 L251.48,343.14 L252.10,343.06 L252.73,342.98 L253.36,342.89 L253.98,342.81 L254.61,342.73 L255.24,342.64 L255.87,342.56 L256.49,342.48 L257.12,342.39 L257.75,342.31 L258.38,342.22 L259.00,342.14 L259.63,342.05 L260.26,341.96 L260.88,341.88 L261.51,341.79 L262.14,341.70 L262.76,341.61 L263.39,341.53 L264.02,341.44 L264.65,341.35 L265.27,341.26 L265.90,341.17 L266.53,341.08 L267.15,340.99 L267.78,340.90 L268.41,340.81 L269.03,340.71 L269.66,340.62 L270.29,340.53 L270.91,340.44 L271.54,340.34 L272.16,340.25 L272.79,340.15 L273.42,340.06 L274.04,339.96 L274.67,339.87 L275.30,339.77 L275.92,339.68 L276.55,339.58 L277.17,339.48 L277.80,339.39 L278.43,339.29 L279.05,339.19 L279.68,339.09 L280.30,338.99 L280.93,338.90 L281.56,338.80 L282.18,338.70 L282.81,338.60 L283.43,338.50 L284.06,338.40 L284.68,338.30 L285.31,338.20 L285.93,338.10 L286.56,338.00 L287.18,337.90 L287.81,337.80 L288.44,337.70 L289.06,337.61 L289.69,337.51 L290.31,337.41 L290.94,337.31 L291.56,337.21 L292.19,337.11 L292.81,337.01 L293.43,336.91 L294.06,336.81 L294.68,336.71 L295.31,336.61 L295.93,336.51 L296.56,336.42 L297.18,336.32 L297.81,336.22 L298.43,336.12 L299.05,336.03 L299.68,335.93 L300.30,335.83 L300.93,335.74 L301.55,335.64 L302.17,335.54 L302.80,335.45 L303.42,335.35 L304.05,335.26 L304.67,335.16 L305.29,335.07 L305.92,334.98 L306.54,334.88 L307.16,334.79 L307.79,334.70 L308.41,334.60 L309.03,334.51 L309.66,334.42 L310.28,334.32 L310.90,334.23 L311.53,334.14 L312.15,334.04 L312.77,333.95 L313.40,333.86 L314.02,333.76 L314.64,333.67 L315.26,333.57 L315.89,333.48 L316.51,333.39 L317.13,333.29 L317.76,333.20 L318.38,333.10 L319.00,333.00 L319.63,332.91 L320.25,332.81 L320.87,332.71 L321.50,332.62 L322.12,332.52 L322.74,332.42 L323.37,332.32 L323.99,332.22 L324.61,332.12 L325.24,332.02 L325.86,331.92 L326.49,331.81 L327.11,331.71 L327.73,331.60 L328.36,331.50 L328.98,331.39 L329.61,331.29 L330.23,331.18 L330.85,331.07 L331.48,330.96 L332.10,330.85 L332.73,330.74 L333.35,330.62 L333.98,330.51 L334.60,330.39 L335.23,330.28 L335.85,330.16 L336.48,330.04 L337.10,329.92 L337.73,329.80 L338.35,329.67 L338.98,329.55 L339.60,329.42 L340.22,329.29 L340.84,329.15 L341.47,329.02 L342.09,328.87 L342.71,328.73 L343.32,328.58 L343.94,328.43 L344.56,328.27 L345.17,328.11 L345.78,327.95 L346.40,327.78 L347.00,327.60 L347.61,327.42 L348.22,327.24 L348.82,327.05 L349.42,326.85 L350.02,326.65 L350.62,326.44 L351.21,326.23 L351.80,326.01 L352.39,325.78 L352.98,325.54 L353.56,325.30 L354.14,325.05 L354.72,324.80 L355.30,324.53 L355.87,324.26 L356.43,323.98 L357.00,323.69 L357.55,323.39 L358.10,323.08 L358.65,322.76 L359.19,322.43 L359.72,322.09 L360.24,321.74 L360.76,321.38 L361.27,321.01 L361.76,320.63 L362.25,320.24 L362.73,319.83 L363.20,319.41 L363.66,318.98 L364.11,318.54 L364.54,318.08 L364.96,317.61 L365.37,317.13 L365.77,316.63 L366.16,316.12 L366.53,315.61 L366.89,315.08 L367.24,314.54 L367.58,314.00 L367.91,313.45 L368.23,312.89 L368.53,312.33 L368.83,311.77 L369.11,311.20 L369.39,310.63 L369.65,310.06 L369.90,309.48 L370.14,308.90 L370.36,308.32 L370.56,307.73 L370.74,307.14 L370.89,306.53 L371.01,305.91 L371.10,305.28 L371.15,304.64 L371.16,303.98" stroke="#1F93D3" stroke-width="3.8" fill="none" stroke-linecap="round" stroke-linejoin="round"/>
<path d="M103.40,352.03 L103.86,351.69 L104.32,351.36 L104.78,351.04 L105.24,350.72 L105.71,350.40 L106.18,350.09 L106.65,349.79 L107.12,349.49 L107.60,349.20 L108.08,348.91 L108.56,348.62 L109.05,348.34 L109.53,348.07 L110.02,347.80 L110.51,347.53 L111.00,347.27 L111.50,347.02 L112.00,346.77 L112.49,346.52 L113.00,346.28 L113.50,346.04 L114.00,345.80 L114.51,345.57 L115.02,345.34 L115.53,345.12 L116.04,344.90 L116.55,344.69 L117.07,344.48 L117.59,344.27 L118.11,344.06 L118.63,343.86 L119.15,343.67 L119.67,343.47 L120.20,343.28 L120.72,343.09 L121.25,342.91 L121.78,342.73 L122.31,342.55 L122.84,342.38 L123.37,342.20 L123.91,342.03 L124.44,341.87 L124.98,341.70 L125.51,341.54 L126.05,341.38 L126.59,341.22 L127.13,341.07 L127.67,340.92 L128.21,340.77 L128.75,340.62 L129.29,340.48 L129.84,340.33 L130.38,340.19 L130.92,340.05 L131.47,339.91 L132.01,339.78 L132.56,339.64 L133.11,339.51 L133.65,339.38 L134.20,339.25 L134.75,339.12 L135.29,338.99 L135.84,338.87 L136.39,338.74 L136.94,338.62 L137.49,338.49 L138.03,338.37 L138.58,338.25 L139.13,338.13 L139.68,338.01 L140.22,337.89 L140.77,337.77 L141.32,337.66 L141.87,337.54 L142.41,337.42 L142.96,337.31 L143.51,337.19 L144.05,337.08 L144.60,336.96 L145.14,336.85 L145.69,336.73 L146.23,336.62 L146.78,336.50 L147.32,336.39 L147.87,336.28 L148.41,336.17 L148.95,336.06 L149.50,335.95 L150.04,335.84 L150.59,335.73 L151.13,335.62 L151.68,335.52 L152.22,335.41 L152.77,335.31 L153.31,335.20 L153.86,335.10 L154.40,335.00 L154.95,334.90 L155.49,334.80 L156.04,334.70 L156.58,334.61 L157.13,334.51 L157.68,334.42 L158.23,334.32 L158.77,334.23 L159.32,334.14 L159.87,334.05 L160.42,333.97 L160.97,333.88 L161.52,333.80 L162.07,333.71 L162.62,333.63 L163.17,333.55 L163.73,333.47 L164.28,333.39 L164.83,333.31 L165.38,333.24 L165.94,333.16 L166.49,333.09 L167.04,333.01 L167.60,332.94 L168.15,332.87 L168.71,332.80 L169.26,332.73 L169.82,332.66 L170.37,332.60 L170.93,332.53 L171.48,332.46 L172.04,332.40 L172.59,332.33 L173.15,332.27 L173.71,332.21 L174.26,332.15 L174.82,332.08 L175.38,332.02 L175.94,331.96 L176.49,331.90 L177.05,331.84 L177.61,331.79 L178.17,331.73 L178.72,331.67 L179.28,331.61 L179.84,331.56 L180.40,331.50 L180.96,331.44 L181.51,331.39 L182.07,331.33 L182.63,331.28 L183.19,331.22 L183.75,331.17 L184.30,331.11 L184.86,331.06 L185.42,331.01 L185.98,330.95 L186.54,330.90 L187.10,330.85 L187.65,330.79 L188.21,330.74 L188.77,330.69 L189.33,330.63 L189.88,330.58 L190.44,330.53 L191.00,330.47 L191.56,330.42 L192.11,330.37 L192.67,330.31 L193.23,330.26 L193.79,330.21 L194.34,330.15 L194.90,330.10 L195.46,330.05 L196.01,330.00 L196.57,329.94 L197.13,329.89 L197.69,329.84 L198.24,329.79 L198.80,329.73 L199.36,329.68 L199.91,329.63 L200.47,329.58 L201.03,329.53 L201.58,329.47 L202.14,329.42 L202.69,329.37 L203.25,329.32 L203.81,329.27 L204.36,329.21 L204.92,329.16 L205.48,329.11 L206.03,329.06 L206.59,329.01 L207.15,328.96 L207.70,328.91 L208.26,328.85 L208.81,328.80 L209.37,328.75 L209.93,328.70 L210.48,328.65 L211.04,328.60 L211.59,328.55 L212.15,328.50 L212.71,328.45 L213.26,328.40 L213.82,328.35 L214.37,328.30 L214.93,328.25 L215.48,328.20 L216.04,328.15 L216.60,328.10 L217.15,328.05 L217.71,328.00 L218.26,327.95 L218.82,327.90 L219.38,327.85 L219.93,327.80 L220.49,327.75 L221.04,327.71 L221.60,327.66 L222.15,327.61 L222.71,327.56 L223.27,327.51 L223.82,327.46 L224.38,327.42 L224.93,327.37 L225.49,327.32 L226.05,327.27 L226.60,327.22 L227.16,327.18 L227.71,327.13 L228.27,327.08 L228.82,327.03 L229.38,326.99 L229.94,326.94 L230.49,326.89 L231.05,326.85 L231.60,326.80 L232.16,326.75 L232.72,326.71 L233.27,326.66 L233.83,326.62 L234.39,326.57 L234.94,326.53 L235.50,326.48 L236.05,326.43 L236.61,326.39 L237.17,326.34 L237.72,326.30 L238.28,326.25 L238.84,326.21 L239.39,326.17 L239.95,326.12 L240.51,326.08 L241.06,326.03 L241.62,325.99 L242.18,325.95 L242.73,325.90 L243.29,325.86 L243.85,325.82 L244.40,325.77 L244.96,325.73 L245.52,325.69 L246.08,325.64 L246.63,325.60 L247.19,325.56 L247.75,325.52 L248.30,325.48 L248.86,325.43 L249.42,325.39 L249.98,325.35 L250.54,325.31 L251.09,325.27 L251.65,325.23 L252.21,325.19 L252.77,325.15 L253.32,325.11 L253.88,325.07 L254.44,325.03 L255.00,324.99 L255.56,324.95 L256.12,324.91 L256.67,324.87 L257.23,324.83 L257.79,324.79 L258.35,324.75 L258.91,324.71 L259.47,324.67 L260.02,324.64 L260.58,324.60 L261.14,324.56 L261.70,324.52 L262.26,324.48 L262.82,324.45 L263.38,324.41 L263.94,324.37 L264.50,324.33 L265.05,324.30 L265.61,324.26 L266.17,324.23 L266.73,324.19 L267.29,324.15 L267.85,324.12 L268.41,324.08 L268.97,324.05 L269.53,324.01 L270.09,323.97 L270.64,323.94 L271.20,323.90 L271.76,323.87 L272.32,323.84 L272.88,323.80 L273.44,323.77 L274.00,323.73 L274.56,323.70 L275.12,323.66 L275.68,323.63 L276.24,323.60 L276.80,323.56 L277.35,323.53 L277.91,323.50 L278.47,323.47 L279.03,323.43 L279.59,323.40 L280.15,323.37 L280.71,323.34 L281.27,323.30 L281.83,323.27 L282.39,323.24 L282.94,323.21 L283.50,323.18 L284.06,323.15 L284.62,323.12 L285.18,323.08 L285.74,323.05 L286.30,323.02 L286.86,322.99 L287.42,322.96 L287.97,322.93 L288.53,322.90 L289.09,322.87 L289.65,322.84 L290.21,322.81 L290.77,322.78 L291.32,322.76 L291.88,322.73 L292.44,322.70 L293.00,322.67 L293.56,322.64 L294.12,322.61 L294.67,322.58 L295.23,322.56 L295.79,322.53 L296.35,322.50 L296.91,322.47 L297.46,322.44 L298.02,322.42 L298.58,322.39 L299.14,322.36 L299.69,322.34 L300.25,322.31 L300.81,322.28 L301.37,322.26 L301.92,322.23 L302.48,322.20 L303.04,322.18 L303.59,322.15 L304.15,322.13 L304.71,322.10 L305.26,322.08 L305.82,322.05 L306.38,322.02 L306.93,322.00 L307.49,321.97 L308.05,321.95 L308.60,321.92 L309.16,321.90 L309.71,321.87 L310.27,321.85 L310.83,321.82 L311.38,321.79 L311.94,321.77 L312.50,321.74 L313.05,321.71 L313.61,321.69 L314.16,321.66 L314.72,321.63 L315.27,321.61 L315.83,321.58 L316.39,321.55 L316.94,321.52 L317.50,321.49 L318.05,321.46 L318.61,321.43 L319.16,321.40 L319.72,321.37 L320.28,321.34 L320.83,321.31 L321.39,321.28 L321.94,321.25 L322.50,321.21 L323.05,321.18 L323.61,321.15 L324.17,321.11 L324.72,321.08 L325.28,321.04 L325.83,321.00 L326.39,320.97 L326.94,320.93 L327.50,320.89 L328.06,320.85 L328.61,320.81 L329.17,320.77 L329.72,320.73 L330.28,320.68 L330.84,320.64 L331.39,320.60 L331.95,320.55 L332.50,320.51 L333.06,320.46 L333.62,320.41 L334.17,320.36 L334.73,320.31 L335.29,320.26 L335.84,320.21 L336.40,320.16 L336.96,320.10 L337.51,320.05 L338.07,319.99 L338.63,319.94 L339.18,319.88 L339.74,319.82 L340.30,319.76 L340.85,319.70 L341.41,319.64 L341.97,319.57 L342.53,319.51 L343.08,319.44 L343.64,319.37 L344.20,319.30 L344.76,319.23 L345.32,319.16 L345.87,319.09 L346.43,319.02 L346.99,318.94 L347.55,318.86 L348.11,318.78 L348.67,318.70 L349.23,318.62 L349.78,318.54 L350.34,318.45 L350.90,318.36 L351.46,318.27 L352.01,318.18 L352.57,318.07 L353.12,317.97 L353.67,317.86 L354.22,317.74 L354.77,317.61 L355.31,317.48 L355.85,317.34 L356.39,317.19 L356.92,317.04 L357.45,316.87 L357.98,316.70 L358.50,316.51 L359.02,316.32 L359.54,316.11 L360.05,315.89 L360.55,315.66 L361.05,315.41 L361.54,315.15 L362.03,314.88 L362.51,314.60 L362.98,314.29 L363.43,313.98 L363.88,313.65 L364.31,313.30 L364.73,312.93 L365.13,312.55 L365.51,312.15 L365.87,311.74 L366.21,311.30 L366.52,310.85 L366.81,310.38 L367.09,309.89 L367.35,309.39 L367.60,308.89 L367.84,308.37 L368.08,307.86 L368.31,307.34 L368.55,306.82 L368.78,306.31 L369.03,305.80 L369.29,305.30 L369.56,304.81 L369.84,304.33 L370.14,303.86 L370.45,303.41 L370.78,302.96 L371.13,302.52" stroke="#F3802A" stroke-width="3.8" fill="none" stroke-linecap="round" stroke-linejoin="round"/>
<g stroke="#8C8C8C" stroke-width="1.3" fill="none"><line x1="460.45" y1="280.39" x2="460.45" y2="432.20" /><line x1="455.45" y1="427.2" x2="784.3" y2="427.2" /><line x1="455.45" y1="427.20" x2="460.45" y2="427.20" /><line x1="455.45" y1="394.58" x2="460.45" y2="394.58" /><line x1="455.45" y1="361.95" x2="460.45" y2="361.95" /><line x1="455.45" y1="329.33" x2="460.45" y2="329.33" /><line x1="455.45" y1="296.70" x2="460.45" y2="296.70" /><line x1="460.45" y1="427.2" x2="460.45" y2="432.2" /><line x1="525.22" y1="427.2" x2="525.22" y2="432.2" /><line x1="589.99" y1="427.2" x2="589.99" y2="432.2" /><line x1="654.76" y1="427.2" x2="654.76" y2="432.2" /><line x1="719.53" y1="427.2" x2="719.53" y2="432.2" /><line x1="784.30" y1="427.2" x2="784.30" y2="432.2" /></g>
<g font-size="16.8"><text x="446" y="432.60" text-anchor="end">0</text><text x="446" y="399.98" text-anchor="end">4</text><text x="446" y="367.35" text-anchor="end">8</text><text x="446" y="334.73" text-anchor="end">12</text><text x="446" y="302.10" text-anchor="end">16</text><text x="460.45" y="452.2" text-anchor="middle">0</text><text x="525.22" y="452.2" text-anchor="middle">0.2</text><text x="589.99" y="452.2" text-anchor="middle">0.4</text><text x="654.76" y="452.2" text-anchor="middle">0.6</text><text x="719.53" y="452.2" text-anchor="middle">0.8</text><text x="784.30" y="452.2" text-anchor="middle">1</text></g>
<text x="607.3" y="478.6" font-size="18.7">p/p<tspan font-size="12.4" dy="4.8">0</tspan></text>
<text x="771.1" y="364.7" font-size="22" font-weight="bold">D</text>
<path d="M461.22,393.81 L461.20,393.07 L461.18,392.34 L461.17,391.61 L461.16,390.88 L461.16,390.15 L461.16,389.43 L461.16,388.70 L461.17,387.97 L461.18,387.25 L461.19,386.52 L461.21,385.80 L461.22,385.08 L461.24,384.35 L461.27,383.63 L461.29,382.91 L461.32,382.19 L461.34,381.46 L461.37,380.74 L461.40,380.01 L461.44,379.29 L461.47,378.56 L461.50,377.84 L461.54,377.11 L461.57,376.38 L461.60,375.65 L461.64,374.92 L461.67,374.18 L461.71,373.45 L461.75,372.71 L461.79,371.98 L461.84,371.24 L461.91,370.51 L461.99,369.79 L462.08,369.07 L462.19,368.35 L462.32,367.64 L462.48,366.94 L462.66,366.24 L462.87,365.55 L463.11,364.88 L463.37,364.21 L463.67,363.56 L464.00,362.92 L464.35,362.30 L464.73,361.68 L465.12,361.07 L465.54,360.48 L465.97,359.90 L466.42,359.33 L466.89,358.77 L467.37,358.22 L467.86,357.68 L468.38,357.16 L468.90,356.65 L469.44,356.15 L469.99,355.66 L470.55,355.19 L471.12,354.73 L471.70,354.29 L472.29,353.86 L472.89,353.44 L473.49,353.04 L474.10,352.65 L474.72,352.27 L475.35,351.91 L475.98,351.56 L476.62,351.22 L477.27,350.89 L477.92,350.58 L478.57,350.27 L479.23,349.97 L479.89,349.68 L480.56,349.40 L481.23,349.12 L481.91,348.85 L482.58,348.59 L483.26,348.33 L483.95,348.08 L484.63,347.84 L485.32,347.59 L486.00,347.35 L486.69,347.12 L487.38,346.88 L488.07,346.65 L488.76,346.42 L489.45,346.20 L490.14,345.97 L490.84,345.75 L491.53,345.53 L492.22,345.31 L492.92,345.10 L493.61,344.88 L494.31,344.67 L495.00,344.47 L495.70,344.26 L496.40,344.05 L497.10,343.85 L497.80,343.65 L498.50,343.45 L499.20,343.25 L499.90,343.06 L500.60,342.86 L501.30,342.67 L502.00,342.48 L502.70,342.29 L503.40,342.11 L504.11,341.92 L504.81,341.74 L505.51,341.55 L506.22,341.37 L506.92,341.19 L507.63,341.02 L508.33,340.84 L509.04,340.66 L509.75,340.49 L510.45,340.32 L511.16,340.15 L511.87,339.98 L512.57,339.81 L513.28,339.64 L513.99,339.47 L514.70,339.31 L515.40,339.14 L516.11,338.98 L516.82,338.81 L517.53,338.65 L518.24,338.49 L518.95,338.33 L519.66,338.17 L520.37,338.01 L521.08,337.85 L521.78,337.69 L522.49,337.54 L523.20,337.38 L523.91,337.22 L524.62,337.07 L525.33,336.92 L526.04,336.76 L526.76,336.61 L527.47,336.46 L528.18,336.31 L528.89,336.15 L529.60,336.00 L530.31,335.86 L531.02,335.71 L531.73,335.56 L532.44,335.41 L533.16,335.26 L533.87,335.12 L534.58,334.97 L535.29,334.82 L536.00,334.68 L536.71,334.53 L537.43,334.39 L538.14,334.25 L538.85,334.10 L539.56,333.96 L540.28,333.82 L540.99,333.67 L541.70,333.53 L542.41,333.39 L543.13,333.25 L543.84,333.11 L544.55,332.97 L545.27,332.83 L545.98,332.69 L546.69,332.55 L547.40,332.41 L548.12,332.27 L548.83,332.13 L549.54,332.00 L550.26,331.86 L550.97,331.72 L551.68,331.58 L552.40,331.45 L553.11,331.31 L553.83,331.17 L554.54,331.04 L555.25,330.90 L555.97,330.76 L556.68,330.63 L557.39,330.49 L558.11,330.35 L558.82,330.22 L559.54,330.08 L560.25,329.95 L560.96,329.81 L561.68,329.68 L562.39,329.54 L563.11,329.41 L563.82,329.27 L564.53,329.14 L565.25,329.00 L565.96,328.87 L566.68,328.73 L567.39,328.60 L568.11,328.47 L568.82,328.33 L569.53,328.20 L570.25,328.06 L570.96,327.93 L571.68,327.80 L572.39,327.66 L573.11,327.53 L573.82,327.40 L574.54,327.26 L575.25,327.13 L575.97,327.00 L576.68,326.87 L577.39,326.73 L578.11,326.60 L578.82,326.47 L579.54,326.34 L580.25,326.20 L580.97,326.07 L581.68,325.94 L582.40,325.81 L583.11,325.67 L583.83,325.54 L584.54,325.41 L585.26,325.28 L585.97,325.15 L586.69,325.01 L587.40,324.88 L588.12,324.75 L588.83,324.62 L589.55,324.49 L590.26,324.36 L590.98,324.23 L591.69,324.09 L592.41,323.96 L593.12,323.83 L593.84,323.70 L594.55,323.57 L595.27,323.44 L595.98,323.31 L596.70,323.18 L597.41,323.04 L598.13,322.91 L598.84,322.78 L599.56,322.65 L600.27,322.52 L600.99,322.39 L601.70,322.26 L602.42,322.13 L603.13,322.00 L603.85,321.87 L604.56,321.74 L605.28,321.60 L605.99,321.47 L606.71,321.34 L607.42,321.21 L608.14,321.08 L608.85,320.95 L609.57,320.82 L610.28,320.69 L611.00,320.56 L611.72,320.43 L612.43,320.30 L613.15,320.17 L613.86,320.04 L614.58,319.90 L615.29,319.77 L616.01,319.64 L616.72,319.51 L617.44,319.38 L618.15,319.25 L618.87,319.12 L619.58,318.99 L620.30,318.86 L621.01,318.73 L621.73,318.59 L622.44,318.46 L623.16,318.33 L623.87,318.20 L624.59,318.07 L625.30,317.94 L626.02,317.81 L626.73,317.68 L627.45,317.54 L628.16,317.41 L628.88,317.28 L629.59,317.15 L630.31,317.02 L631.02,316.89 L631.74,316.75 L632.45,316.62 L633.17,316.49 L633.88,316.36 L634.60,316.23 L635.31,316.09 L636.03,315.96 L636.74,315.83 L637.46,315.70 L638.17,315.56 L638.89,315.43 L639.60,315.30 L640.32,315.17 L641.03,315.03 L641.75,314.90 L642.46,314.77 L643.18,314.63 L643.89,314.50 L644.60,314.37 L645.32,314.23 L646.03,314.10 L646.75,313.97 L647.46,313.83 L648.18,313.70 L648.89,313.56 L649.61,313.43 L650.32,313.30 L651.04,313.16 L651.75,313.03 L652.46,312.89 L653.18,312.76 L653.89,312.62 L654.61,312.49 L655.32,312.35 L656.04,312.22 L656.75,312.08 L657.46,311.95 L658.18,311.81 L658.89,311.67 L659.61,311.54 L660.32,311.40 L661.03,311.27 L661.75,311.13 L662.46,310.99 L663.18,310.86 L663.89,310.72 L664.60,310.58 L665.32,310.45 L666.03,310.31 L666.74,310.17 L667.46,310.03 L668.17,309.89 L668.89,309.76 L669.60,309.62 L670.31,309.48 L671.03,309.34 L671.74,309.20 L672.45,309.06 L673.17,308.92 L673.88,308.78 L674.59,308.64 L675.31,308.51 L676.02,308.37 L676.73,308.23 L677.45,308.08 L678.16,307.94 L678.87,307.80 L679.58,307.66 L680.30,307.52 L681.01,307.38 L681.72,307.24 L682.44,307.10 L683.15,306.95 L683.86,306.81 L684.57,306.67 L685.29,306.53 L686.00,306.39 L686.71,306.24 L687.42,306.10 L688.14,305.96 L688.85,305.81 L689.56,305.67 L690.27,305.52 L690.99,305.38 L691.70,305.24 L692.41,305.09 L693.12,304.95 L693.83,304.80 L694.55,304.66 L695.26,304.51 L695.97,304.37 L696.68,304.22 L697.39,304.07 L698.11,303.93 L698.82,303.78 L699.53,303.64 L700.24,303.49 L700.95,303.34 L701.67,303.19 L702.38,303.05 L703.09,302.90 L703.80,302.75 L704.51,302.60 L705.22,302.46 L705.93,302.31 L706.65,302.16 L707.36,302.01 L708.07,301.86 L708.78,301.71 L709.49,301.56 L710.20,301.41 L710.91,301.27 L711.63,301.12 L712.34,300.97 L713.05,300.81 L713.76,300.66 L714.47,300.51 L715.18,300.36 L715.89,300.21 L716.60,300.06 L717.31,299.91 L718.02,299.76 L718.74,299.61 L719.45,299.45 L720.16,299.30 L720.87,299.15 L721.58,299.00 L722.29,298.84 L723.00,298.69 L723.71,298.54 L724.42,298.38 L725.13,298.23 L725.84,298.08 L726.55,297.92 L727.26,297.77 L727.97,297.62 L728.68,297.46 L729.39,297.31 L730.10,297.15 L730.81,297.00 L731.52,296.84 L732.23,296.69 L732.95,296.53 L733.66,296.37 L734.37,296.22 L735.08,296.06 L735.79,295.91 L736.50,295.75 L737.21,295.59 L737.92,295.43 L738.63,295.28 L739.34,295.12 L740.05,294.96 L740.76,294.80 L741.47,294.65 L742.18,294.49 L742.89,294.33 L743.59,294.17 L744.30,294.01 L745.01,293.85 L745.72,293.69 L746.43,293.53 L747.14,293.37 L747.85,293.21 L748.56,293.05 L749.27,292.89 L749.98,292.73 L750.69,292.56 L751.40,292.40 L752.11,292.24 L752.81,292.07 L753.52,291.91 L754.23,291.74 L754.94,291.58 L755.65,291.41 L756.35,291.24 L757.06,291.07 L757.77,290.90 L758.47,290.73 L759.18,290.56 L759.89,290.39 L760.59,290.21 L761.30,290.04 L762.00,289.87 L762.71,289.69 L763.42,289.51 L764.12,289.33 L764.82,289.15 L765.53,288.97 L766.23,288.79 L766.94,288.61 L767.64,288.43 L768.34,288.24 L769.04,288.05 L769.75,287.87 L770.45,287.68 L771.15,287.49 L771.85,287.29 L772.55,287.10 L773.25,286.91 L773.95,286.71 L774.65,286.51 L775.35,286.31 L776.05,286.11 L776.75,285.91 L777.44,285.71 L778.14,285.50 L778.84,285.30 L779.53,285.09 L780.23,284.88 L780.92,284.66 L781.62,284.45 L782.31,284.23 L783.01,284.02" stroke="#1F93D3" stroke-width="3.8" fill="none" stroke-linecap="round" stroke-linejoin="round"/>
<path d="M476.33,333.53 L476.75,333.05 L477.18,332.59 L477.62,332.14 L478.08,331.71 L478.54,331.28 L479.02,330.87 L479.50,330.47 L479.99,330.08 L480.49,329.70 L481.00,329.33 L481.51,328.97 L482.03,328.62 L482.56,328.27 L483.09,327.94 L483.63,327.61 L484.18,327.29 L484.72,326.98 L485.28,326.67 L485.83,326.37 L486.39,326.08 L486.95,325.79 L487.52,325.50 L488.08,325.22 L488.65,324.94 L489.22,324.67 L489.79,324.40 L490.36,324.13 L490.93,323.87 L491.51,323.61 L492.08,323.35 L492.66,323.10 L493.23,322.84 L493.81,322.59 L494.39,322.35 L494.97,322.10 L495.55,321.86 L496.14,321.62 L496.72,321.38 L497.30,321.15 L497.89,320.91 L498.47,320.68 L499.06,320.45 L499.65,320.22 L500.23,319.99 L500.82,319.77 L501.41,319.54 L502.00,319.32 L502.59,319.09 L503.17,318.87 L503.76,318.65 L504.35,318.43 L504.94,318.21 L505.54,317.99 L506.13,317.77 L506.72,317.55 L507.31,317.34 L507.90,317.12 L508.49,316.90 L509.09,316.69 L509.68,316.48 L510.28,316.27 L510.87,316.06 L511.46,315.85 L512.06,315.64 L512.65,315.43 L513.25,315.22 L513.85,315.02 L514.44,314.81 L515.04,314.61 L515.64,314.41 L516.23,314.20 L516.83,314.00 L517.43,313.80 L518.03,313.61 L518.63,313.41 L519.23,313.21 L519.82,313.02 L520.42,312.82 L521.02,312.63 L521.63,312.44 L522.23,312.25 L522.83,312.06 L523.43,311.87 L524.03,311.68 L524.63,311.50 L525.24,311.31 L525.84,311.13 L526.44,310.95 L527.05,310.77 L527.65,310.59 L528.25,310.41 L528.86,310.23 L529.46,310.06 L530.07,309.88 L530.67,309.71 L531.28,309.53 L531.89,309.36 L532.49,309.19 L533.10,309.03 L533.71,308.86 L534.32,308.69 L534.92,308.53 L535.53,308.36 L536.14,308.20 L536.75,308.04 L537.36,307.88 L537.97,307.72 L538.58,307.56 L539.19,307.41 L539.80,307.25 L540.41,307.10 L541.02,306.94 L541.63,306.79 L542.24,306.64 L542.85,306.49 L543.46,306.34 L544.08,306.19 L544.69,306.05 L545.30,305.90 L545.91,305.76 L546.53,305.61 L547.14,305.47 L547.76,305.33 L548.37,305.19 L548.98,305.05 L549.60,304.91 L550.21,304.78 L550.83,304.64 L551.44,304.50 L552.06,304.37 L552.67,304.24 L553.29,304.10 L553.91,303.97 L554.52,303.84 L555.14,303.71 L555.76,303.58 L556.37,303.46 L556.99,303.33 L557.61,303.20 L558.23,303.08 L558.84,302.95 L559.46,302.83 L560.08,302.71 L560.70,302.59 L561.32,302.47 L561.94,302.35 L562.55,302.23 L563.17,302.11 L563.79,301.99 L564.41,301.88 L565.03,301.76 L565.65,301.65 L566.27,301.53 L566.89,301.42 L567.51,301.31 L568.13,301.19 L568.75,301.08 L569.38,300.97 L570.00,300.86 L570.62,300.76 L571.24,300.65 L571.86,300.54 L572.48,300.43 L573.10,300.33 L573.73,300.22 L574.35,300.12 L574.97,300.01 L575.59,299.91 L576.22,299.81 L576.84,299.71 L577.46,299.60 L578.08,299.50 L578.71,299.40 L579.33,299.30 L579.95,299.21 L580.58,299.11 L581.20,299.01 L581.82,298.91 L582.45,298.82 L583.07,298.72 L583.69,298.62 L584.32,298.53 L584.94,298.44 L585.57,298.34 L586.19,298.25 L586.82,298.16 L587.44,298.06 L588.06,297.97 L588.69,297.88 L589.31,297.79 L589.94,297.69 L590.56,297.60 L591.19,297.51 L591.81,297.41 L592.43,297.32 L593.06,297.22 L593.68,297.12 L594.30,297.01 L594.92,296.91 L595.54,296.80 L596.16,296.69 L596.78,296.58 L597.40,296.46 L598.02,296.35 L598.64,296.22 L599.25,296.09 L599.87,295.96 L600.48,295.83 L601.10,295.69 L601.71,295.54 L602.32,295.39 L602.93,295.24 L603.54,295.08 L604.15,294.92 L604.76,294.76 L605.37,294.59 L605.98,294.42 L606.58,294.26 L607.19,294.08 L607.80,293.91 L608.40,293.74 L609.01,293.56 L609.62,293.39 L610.22,293.22 L610.83,293.04 L611.44,292.87 L612.04,292.70 L612.65,292.53 L613.26,292.36 L613.87,292.20 L614.48,292.04 L615.09,291.88 L615.70,291.72 L616.31,291.57 L616.92,291.43 L617.53,291.29 L618.15,291.16 L618.76,291.03 L619.38,290.92 L620.00,290.81 L620.62,290.71 L621.25,290.62 L621.87,290.54 L622.50,290.47 L623.12,290.41 L623.75,290.35 L624.38,290.29 L625.01,290.23 L625.64,290.18 L626.27,290.12 L626.90,290.06 L627.52,290.00 L628.15,289.93 L628.78,289.86 L629.41,289.78 L630.03,289.70 L630.66,289.62 L631.28,289.54 L631.91,289.46 L632.53,289.37 L633.16,289.29 L633.78,289.21 L634.41,289.13 L635.03,289.05 L635.66,288.98 L636.28,288.91 L636.91,288.84 L637.54,288.77 L638.16,288.71 L638.79,288.65 L639.42,288.59 L640.05,288.53 L640.67,288.48 L641.30,288.42 L641.93,288.37 L642.56,288.32 L643.19,288.27 L643.82,288.23 L644.44,288.18 L645.07,288.13 L645.70,288.09 L646.33,288.04 L646.96,288.00 L647.59,287.95 L648.22,287.91 L648.85,287.86 L649.48,287.82 L650.10,287.77 L650.73,287.73 L651.36,287.69 L651.99,287.65 L652.62,287.60 L653.25,287.56 L653.88,287.52 L654.51,287.48 L655.14,287.44 L655.77,287.39 L656.39,287.35 L657.02,287.31 L657.65,287.27 L658.28,287.23 L658.91,287.19 L659.54,287.15 L660.17,287.12 L660.80,287.08 L661.43,287.04 L662.06,287.00 L662.69,286.96 L663.32,286.92 L663.95,286.89 L664.57,286.85 L665.20,286.81 L665.83,286.77 L666.46,286.74 L667.09,286.70 L667.72,286.67 L668.35,286.63 L668.98,286.59 L669.61,286.56 L670.24,286.52 L670.87,286.49 L671.50,286.45 L672.13,286.42 L672.76,286.38 L673.39,286.35 L674.02,286.32 L674.65,286.28 L675.28,286.25 L675.90,286.22 L676.53,286.18 L677.16,286.15 L677.79,286.12 L678.42,286.08 L679.05,286.05 L679.68,286.02 L680.31,285.99 L680.94,285.96 L681.57,285.93 L682.20,285.89 L682.83,285.86 L683.46,285.83 L684.09,285.80 L684.72,285.77 L685.35,285.74 L685.98,285.71 L686.61,285.68 L687.24,285.65 L687.87,285.62 L688.50,285.59 L689.13,285.56 L689.76,285.53 L690.39,285.51 L691.02,285.48 L691.65,285.45 L692.28,285.42 L692.91,285.39 L693.54,285.36 L694.17,285.34 L694.80,285.31 L695.43,285.28 L696.06,285.25 L696.69,285.23 L697.32,285.20 L697.95,285.17 L698.57,285.14 L699.20,285.12 L699.83,285.09 L700.46,285.06 L701.09,285.04 L701.72,285.01 L702.35,284.99 L702.98,284.96 L703.61,284.93 L704.24,284.91 L704.87,284.88 L705.50,284.86 L706.13,284.83 L706.76,284.81 L707.39,284.78 L708.02,284.76 L708.65,284.73 L709.28,284.71 L709.91,284.68 L710.54,284.66 L711.17,284.63 L711.80,284.61 L712.43,284.59 L713.06,284.56 L713.69,284.54 L714.32,284.51 L714.95,284.49 L715.58,284.47 L716.21,284.44 L716.84,284.42 L717.47,284.40 L718.10,284.37 L718.73,284.35 L719.36,284.33 L719.99,284.30 L720.62,284.28 L721.25,284.26 L721.88,284.23 L722.51,284.21 L723.14,284.19 L723.77,284.17 L724.40,284.14 L725.03,284.12 L725.66,284.10 L726.29,284.08 L726.92,284.05 L727.55,284.03 L728.18,284.01 L728.81,283.99 L729.44,283.97 L730.07,283.94 L730.70,283.92 L731.33,283.90 L731.96,283.88 L732.59,283.86 L733.22,283.84 L733.85,283.82 L734.48,283.79 L735.11,283.77 L735.74,283.75 L736.37,283.73 L737.00,283.71 L737.63,283.69 L738.26,283.67 L738.89,283.65 L739.52,283.63 L740.15,283.61 L740.78,283.59 L741.41,283.57 L742.04,283.55 L742.67,283.53 L743.30,283.51 L743.93,283.49 L744.56,283.47 L745.19,283.45 L745.82,283.43 L746.45,283.41 L747.08,283.39 L747.71,283.37 L748.34,283.35 L748.97,283.33 L749.60,283.31 L750.23,283.29 L750.86,283.27 L751.50,283.25 L752.13,283.24 L752.76,283.22 L753.39,283.20 L754.02,283.18 L754.65,283.16 L755.28,283.14 L755.91,283.12 L756.54,283.11 L757.17,283.09 L757.80,283.07 L758.43,283.05 L759.06,283.03 L759.69,283.01 L760.32,283.00 L760.95,282.98 L761.58,282.96 L762.21,282.94 L762.84,282.93 L763.47,282.91 L764.10,282.89 L764.73,282.87 L765.36,282.86 L765.99,282.84 L766.62,282.83 L767.25,282.81 L767.88,282.80 L768.51,282.79 L769.14,282.78 L769.77,282.77 L770.40,282.76 L771.04,282.75 L771.67,282.75 L772.30,282.74 L772.93,282.74 L773.56,282.74 L774.19,282.75 L774.82,282.75 L775.45,282.76 L776.08,282.77 L776.71,282.78 L777.34,282.80 L777.97,282.82 L778.60,282.84 L779.22,282.87 L779.85,282.89 L780.48,282.93 L781.11,282.96 L781.74,283.00 L782.37,283.04 L783.00,283.09" stroke="#F3802A" stroke-width="3.8" fill="none" stroke-linecap="round" stroke-linejoin="round"/>
<text transform="translate(27.3,90) rotate(-90)" text-anchor="middle" font-size="18.7">Quantity adsorbed,</text>
<text transform="translate(48.9,90.3) rotate(-90)" text-anchor="middle" font-size="18.7">mmol/g</text>
<text transform="translate(27.3,366.6) rotate(-90)" text-anchor="middle" font-size="18.7">Quantity adsorbed,</text>
<text transform="translate(48.9,366.90000000000003) rotate(-90)" text-anchor="middle" font-size="18.7">mmol/g</text>
</svg>
</body></html>
